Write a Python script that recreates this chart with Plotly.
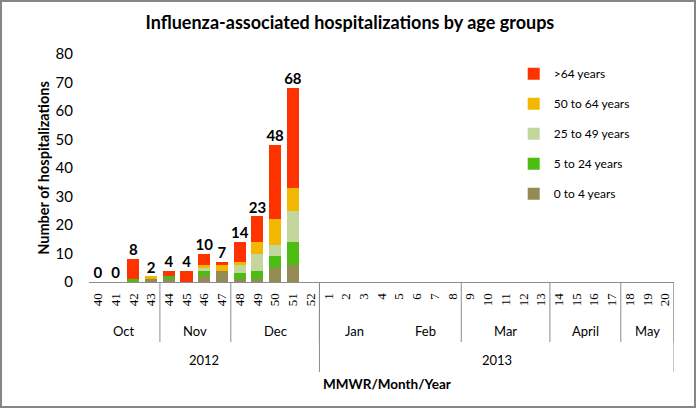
import plotly.graph_objects as go

# MMWR weeks, Oct 2012 - May 2013
weeks = [40, 41, 42, 43, 44, 45, 46, 47, 48, 49, 50, 51, 52,
         1, 2, 3, 4, 5, 6, 7, 8, 9, 10, 11, 12, 13, 14, 15, 16, 17, 18, 19, 20]

age_0_4 = [0, 0, 0, 1, 1, 0, 2, 4, 1, 1, 5, 6]
age_5_24 = [0, 0, 1, 0, 1, 0, 2, 0, 2, 3, 4, 8]
age_25_49 = [0, 0, 0, 0, 0, 0, 1, 0, 3, 6, 4, 11]
age_50_64 = [0, 0, 0, 1, 0, 0, 1, 2, 1, 4, 9, 8]
age_65_up = [0, 0, 7, 0, 2, 4, 4, 1, 7, 9, 26, 35]

months = ["Oct", "Nov", "Dec", "Jan", "Feb", "Mar", "April", "May"]
month_weeks = [4, 4, 5, 4, 4, 5, 4, 3]
years = ["2012", "2013"]
year_weeks = [13, 20]

series = [
    ("0 to 4 years", age_0_4, "#948A54"),
    ("5 to 24 years", age_5_24, "#4DBD14"),
    ("25 to 49 years", age_25_49, "#C3D69B"),
    ("50 to 64 years", age_50_64, "#F2B700"),
    (">64 years", age_65_up, "#FF3300"),
]

FONT = "Lato, Carlito, Calibri, sans-serif"
x = list(range(len(age_0_4)))
totals = [sum(v) for v in zip(age_0_4, age_5_24, age_25_49, age_50_64, age_65_up)]

fig = go.Figure()
for i, (name, vals, color) in enumerate(series):
    fig.add_trace(go.Bar(x=x, y=vals, name=name, marker_color=color,
                         marker_line_width=0, legendgroup=str(i),
                         legendrank=1000 - i))

fig.add_trace(go.Scatter(
    x=x, y=totals, mode="text", text=[f"<b>{t}</b>" for t in totals],
    textposition="top center", textfont=dict(size=15, color="black", family=FONT),
    showlegend=False, hoverinfo="skip", cliponaxis=False,
))

shapes = []
annotations = []

# month labels + separators
start = 0
for m, n in zip(months, month_weeks):
    end = start + n
    annotations.append(dict(x=(start + end - 1) / 2, y=-0.215, xref="x", yref="paper",
                            yanchor="middle", text=m, showarrow=False,
                            font=dict(size=13, family=FONT)))
    if m != "Jan":
        shapes.append(dict(type="line", xref="x", yref="paper", x0=end - 0.5, x1=end - 0.5,
                           y0=0, y1=-0.263, line=dict(color="#8C8C8C", width=1)))
    start = end

# year labels + separators
start = 0
for yr, n in zip(years, year_weeks):
    end = start + n
    annotations.append(dict(x=(start + end - 1) / 2, y=-0.342, xref="x", yref="paper",
                            yanchor="middle", text=yr, showarrow=False,
                            font=dict(size=13, family=FONT)))
    shapes.append(dict(type="line", xref="x", yref="paper", x0=end - 0.5, x1=end - 0.5,
                       y0=0, y1=-0.395, line=dict(color="#8C8C8C", width=1)))
    start = end

annotations.append(dict(x=0.51, y=-0.447, xref="paper", yref="paper", yanchor="middle",
                        text="<b>MMWR/Month/Year</b>", showarrow=False,
                        font=dict(size=13.5, family=FONT)))

# outer chart border
shapes.append(dict(type="rect", xref="paper", yref="paper", x0=-0.1504, x1=1.0359,
                   y0=-0.548, y1=1.232, line=dict(color="#868686", width=2)))

fig.update_layout(
    width=697, height=412,
    margin=dict(l=89, r=23, t=54, b=130),
    paper_bgcolor="white", plot_bgcolor="white",
    barmode="stack", bargap=0.32,
    title=dict(text="<b>Influenza-associated hospitalizations by age groups</b>",
               x=0.502, xref="container", y=0.946, yref="container",
               xanchor="center", yanchor="middle",
               font=dict(size=18, family=FONT, color="black")),
    legend=dict(x=0.726, y=0.977, xanchor="left", yanchor="top",
                tracegroupgap=11,
                font=dict(size=12, family=FONT, color="black"),
                itemwidth=30, bgcolor="rgba(0,0,0,0)"),
    shapes=shapes, annotations=annotations,
    font=dict(family=FONT, color="black"),
)

fig.update_xaxes(
    range=[-0.5, len(weeks) - 0.5], tickmode="array",
    tickvals=list(range(len(weeks))), ticktext=[str(w) for w in weeks],
    tickangle=-90, ticks="outside", ticklen=5, tickcolor="rgba(0,0,0,0)",
    tickfont=dict(size=13, family="Liberation Serif, serif"),
    showline=True, linecolor="#8C8C8C", linewidth=1, showgrid=False, zeroline=False,
)
fig.update_yaxes(
    range=[0, 80], dtick=10, showgrid=False, zeroline=False, showline=False,
    tickfont=dict(size=15, family=FONT), ticks="outside", ticklen=12,
    tickcolor="rgba(0,0,0,0)",
    title=dict(text="<b>Number of hospitalizations</b>", standoff=2,
               font=dict(size=14.5, family=FONT)),
)

# page body has a default 8px margin; drop it so the chart fills the window
fig.write_html("out.html", config={"displayModeBar": False},
               post_script="document.body.style.margin='0';")
